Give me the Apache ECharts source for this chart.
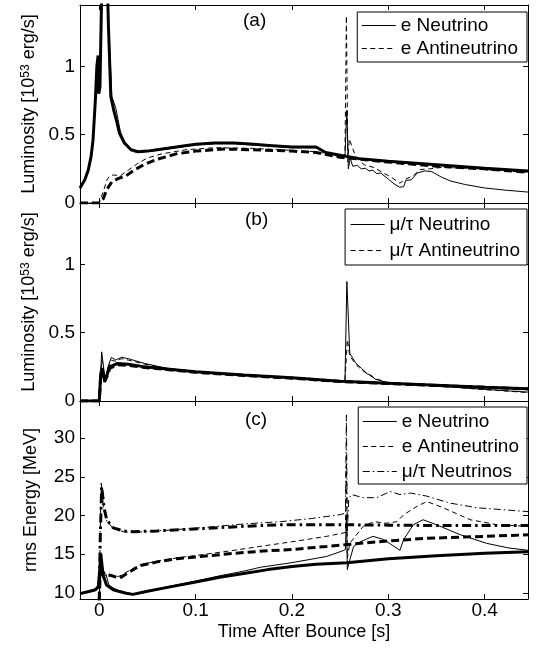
<!DOCTYPE html>
<html><head><meta charset="utf-8">
<script src="https://cdn.jsdelivr.net/npm/echarts@6/dist/echarts.min.js"></script>
<style>html,body{margin:0;padding:0;background:#fff}#c{width:537px;height:651px}</style>
</head><body><div id="c"></div>
<script>
// ---------- data (time [s], value) ----------
// Panel (a): luminosity, e neutrino / e antineutrino
const aENuThick = [[-0.02,0.11],[-0.015,0.17],[-0.0115,0.24],[-0.0085,0.34],[-0.0065,0.46],[-0.004,0.76],[-0.0025,1.0],[-0.0012,1.08],[-0.001,0.85],[-0.0005,0.8],[0.0007,0.85],[0.005,2.5],[0.0095,1.3],[0.012,0.78],[0.015,0.68],[0.018,0.6],[0.021,0.51],[0.026,0.44],[0.033,0.39],[0.04,0.375],[0.05,0.38],[0.06,0.39],[0.08,0.41],[0.1,0.43],[0.12,0.44],[0.14,0.44],[0.16,0.43],[0.18,0.42],[0.2,0.41],[0.225,0.41],[0.235,0.37],[0.25,0.35],[0.27,0.325],[0.3,0.305],[0.35,0.28],[0.4,0.255],[0.445,0.235]];
const aENuThin = [[-0.02,0.1],[-0.0115,0.23],[-0.0065,0.45],[-0.004,0.75],[-0.0025,0.99],[-0.001,1.05],[0.0007,0.9],[0.005,2.6],[0.0098,1.3],[0.013,0.78],[0.017,0.7],[0.022,0.52],[0.027,0.44],[0.034,0.385],[0.04,0.37],[0.06,0.385],[0.08,0.405],[0.1,0.425],[0.12,0.435],[0.14,0.435],[0.16,0.425],[0.18,0.415],[0.2,0.405],[0.225,0.405],[0.235,0.365],[0.25,0.345],[0.255,0.34],[0.257,0.68],[0.2585,0.25],[0.2605,0.33],[0.263,0.27],[0.268,0.275],[0.272,0.25],[0.276,0.255],[0.28,0.235],[0.284,0.24],[0.288,0.215],[0.292,0.22],[0.3,0.175],[0.306,0.14],[0.312,0.115],[0.316,0.12],[0.318,0.165],[0.324,0.17],[0.33,0.22],[0.338,0.235],[0.345,0.23],[0.355,0.19],[0.365,0.16],[0.38,0.135],[0.4,0.11],[0.42,0.095],[0.445,0.08]];
const aEAnuThick = [[-0.02,0],[0,0],[0.004,0.03],[0.008,0.1],[0.013,0.155],[0.02,0.18],[0.028,0.2],[0.036,0.24],[0.046,0.28],[0.06,0.32],[0.08,0.36],[0.1,0.38],[0.13,0.395],[0.16,0.39],[0.2,0.38],[0.225,0.37],[0.25,0.335],[0.3,0.3],[0.35,0.27],[0.4,0.25],[0.445,0.225]];
const aEAnuThin = [[-0.02,0],[0,0],[0.004,0.08],[0.008,0.17],[0.011,0.2],[0.015,0.205],[0.022,0.2],[0.03,0.24],[0.04,0.29],[0.05,0.33],[0.065,0.36],[0.09,0.39],[0.12,0.405],[0.16,0.4],[0.2,0.385],[0.225,0.375],[0.25,0.34],[0.255,0.335],[0.2565,1.37],[0.258,0.3],[0.2595,0.47],[0.263,0.4],[0.267,0.33],[0.275,0.28],[0.285,0.26],[0.295,0.22],[0.305,0.18],[0.312,0.145],[0.318,0.175],[0.326,0.2],[0.333,0.245],[0.343,0.25],[0.355,0.26],[0.38,0.255],[0.4,0.245],[0.445,0.225]];
// Panel (b): luminosity, mu/tau neutrino / antineutrino
const bMuNuThick = [[-0.02,0],[0,0],[0.0015,0.2],[0.003,0.24],[0.0055,0.15],[0.008,0.19],[0.011,0.25],[0.019,0.275],[0.03,0.27],[0.047,0.25],[0.07,0.235],[0.1,0.215],[0.15,0.19],[0.2,0.17],[0.25,0.145],[0.3,0.13],[0.35,0.115],[0.4,0.1],[0.445,0.09]];
const bMuAnuThick = [[-0.02,0],[0,0],[0.0015,0.18],[0.003,0.22],[0.0055,0.14],[0.008,0.18],[0.011,0.24],[0.019,0.265],[0.03,0.262],[0.047,0.245],[0.07,0.23],[0.1,0.21],[0.15,0.187],[0.2,0.167],[0.25,0.143],[0.3,0.128],[0.35,0.113],[0.4,0.1],[0.445,0.088]];
const bMuNuThin = [[-0.02,0],[0,0],[0.0025,0.36],[0.006,0.16],[0.009,0.25],[0.0125,0.32],[0.017,0.3],[0.023,0.32],[0.03,0.31],[0.047,0.275],[0.07,0.24],[0.1,0.215],[0.15,0.19],[0.2,0.168],[0.25,0.145],[0.255,0.143],[0.257,0.875],[0.26,0.35],[0.266,0.28],[0.272,0.24],[0.278,0.2],[0.283,0.185],[0.286,0.16],[0.292,0.15],[0.3,0.13],[0.35,0.11],[0.4,0.085],[0.445,0.065]];
const bMuAnuThin = [[-0.02,0],[0,0],[0.0025,0.3],[0.006,0.15],[0.009,0.23],[0.0125,0.3],[0.017,0.29],[0.023,0.31],[0.03,0.3],[0.047,0.27],[0.07,0.238],[0.1,0.213],[0.15,0.188],[0.2,0.166],[0.25,0.144],[0.255,0.142],[0.2575,0.45],[0.26,0.33],[0.266,0.27],[0.272,0.23],[0.278,0.2],[0.286,0.165],[0.3,0.135],[0.35,0.11],[0.4,0.083],[0.445,0.062]];
// Panel (c): rms energy [MeV]
const cENuThick = [[-0.02,9.9],[-0.01,10.2],[-0.004,10.4],[-0.001,10.8],[0.0005,13],[0.0015,15.1],[0.004,12.3],[0.0075,11.0],[0.0145,10.4],[0.02,10.2],[0.028,9.95],[0.035,9.8],[0.05,10.2],[0.075,10.8],[0.1,11.4],[0.125,12.0],[0.15,12.5],[0.175,13.0],[0.2,13.4],[0.225,13.7],[0.257,13.9],[0.3,14.4],[0.35,14.8],[0.4,15.1],[0.445,15.3]];
const cENuThin = [[-0.02,9.8],[-0.01,10.1],[-0.004,10.3],[-0.001,10.6],[0.0015,14.3],[0.004,11.8],[0.007,12.4],[0.01,11.0],[0.015,10.6],[0.02,10.3],[0.028,10.0],[0.035,9.85],[0.05,10.25],[0.075,10.9],[0.1,11.5],[0.125,12.2],[0.15,12.8],[0.167,13.3],[0.2,13.9],[0.236,14.7],[0.252,15.4],[0.2555,15.6],[0.2565,20.1],[0.2575,13.0],[0.259,13.8],[0.264,16.0],[0.271,16.6],[0.284,17.3],[0.295,16.9],[0.306,16.0],[0.312,15.5],[0.316,16.9],[0.326,18.8],[0.336,19.45],[0.35,18.8],[0.375,17.5],[0.402,16.4],[0.425,15.8],[0.445,15.5]];
const cEAnuThick = [[0,9],[0.001,12.5],[0.004,12.6],[0.01,12.3],[0.0215,11.9],[0.03,12.6],[0.042,13.5],[0.06,14.0],[0.08,14.4],[0.105,14.7],[0.14,15.1],[0.17,15.4],[0.2,15.6],[0.236,16.0],[0.271,16.4],[0.3,16.7],[0.34,17.05],[0.4,17.3],[0.445,17.5]];
const cEAnuThin = [[0,9],[0.001,12.2],[0.005,12.5],[0.01,12.4],[0.02,12.1],[0.03,12.8],[0.042,13.6],[0.06,14.1],[0.08,14.5],[0.105,14.9],[0.14,15.5],[0.167,16.0],[0.2,16.6],[0.236,17.3],[0.252,17.7],[0.2555,17.8],[0.2565,28],[0.2575,14.5],[0.26,16.4],[0.274,18.6],[0.285,19.2],[0.298,19.0],[0.309,19.2],[0.316,20.1],[0.33,21.2],[0.34,21.8],[0.357,21.0],[0.385,19.45],[0.413,18.8],[0.445,18.6]];
const cMuThick = [[0,9],[0.001,17],[0.0025,23.7],[0.005,21],[0.0077,19.45],[0.0145,18.4],[0.025,18.0],[0.035,17.9],[0.06,18.0],[0.105,18.3],[0.15,18.6],[0.188,18.8],[0.25,18.8],[0.3,18.75],[0.35,18.7],[0.4,18.7],[0.445,18.7]];
const cMuThin = [[0,9],[0.001,18],[0.002,24.2],[0.005,20.5],[0.008,19.2],[0.015,18.3],[0.025,17.9],[0.035,17.8],[0.06,18.0],[0.105,18.4],[0.15,18.9],[0.188,19.2],[0.22,19.6],[0.25,20.1],[0.2555,20.3],[0.2565,33],[0.2575,18],[0.259,22.2],[0.262,22.7],[0.274,22.3],[0.288,22.3],[0.302,23.1],[0.312,22.7],[0.323,22.9],[0.34,22.5],[0.364,21.6],[0.392,21.0],[0.445,20.5]];

// ---------- labels ----------
const legendA = ['e Neutrino','e Antineutrino'];
const legendB = ['μ/τ Neutrino','μ/τ Antineutrino'];
const legendC = ['e Neutrino','e Antineutrino','μ/τ Neutrinos'];
const panelLabels = ['(a)','(b)','(c)'];
const xName = 'Time After Bounce [s]';
const yNameLum = 'Luminosity [10{sup|53} erg/s]';
const yNameE = 'rms Energy [MeV]';

// ---------- chart ----------
const FONT = '"Liberation Sans", Arial, Helvetica, sans-serif';
const BLACK = '#000';
const X_MIN = -0.02, X_MAX = 0.445;
const tops = [5, 203, 401];
const H = 198;

function xAx(g, pos, labels, name) {
  const a = {
    type: 'value', gridIndex: g, position: pos, min: X_MIN, max: X_MAX, splitNumber: 5,
    axisLine: {show: true, onZero: false, lineStyle: {color: BLACK, width: 1}},
    axisTick: {show: true, inside: true, length: 5, lineStyle: {color: BLACK, width: 1}},
    axisLabel: {show: labels, showMinLabel: false, showMaxLabel: false, color: BLACK, fontSize: 19, fontFamily: FONT, margin: 2},
    splitLine: {show: false}
  };
  if (name) {
    a.name = name; a.nameLocation = 'middle'; a.nameGap = 24;
    a.nameTextStyle = {color: BLACK, fontSize: 18, fontFamily: FONT};
  }
  return a;
}
function yAx(g, pos, labels, lim, name, gap) {
  const a = {
    type: 'value', gridIndex: g, position: pos, min: lim.min, max: lim.max,
    axisLine: {show: true, onZero: false, lineStyle: {color: BLACK, width: 1}},
    axisTick: {show: true, inside: true, length: 5, lineStyle: {color: BLACK, width: 1}},
    axisLabel: {show: labels, showMinLabel: lim.showMin, showMaxLabel: false, color: BLACK, fontSize: 19, fontFamily: FONT, margin: 5},
    splitLine: {show: false}
  };
  if (lim.interval) a.interval = lim.interval; else a.splitNumber = lim.split;
  if (name) {
    a.name = name; a.nameLocation = 'middle'; a.nameGap = gap; a.nameRotate = 90;
    a.nameTextStyle = {color: BLACK, fontSize: 18, fontFamily: FONT,
      rich: {sup: {fontSize: 12, fontFamily: FONT, color: BLACK, verticalAlign: 'top', lineHeight: 12}}};
  }
  return a;
}
const limLum = {min: 0, max: 1.45, interval: 0.5, showMin: true};
const limE = {min: 9.2, max: 34.8, split: 5, showMin: false};

const xAxes = [], yAxes = [];
for (let g = 0; g < 3; g++) {
  xAxes.push(xAx(g, 'bottom', g === 2, g === 2 ? xName : null)); // index 2g
  xAxes.push(xAx(g, 'top', false, null));                           // index 2g+1
  const lim = g === 2 ? limE : limLum;
  yAxes.push(yAx(g, 'left', true, lim, g === 2 ? yNameE : yNameLum, g === 2 ? 40 : 42));
  yAxes.push(yAx(g, 'right', false, lim, null, 0));
}

function ser(name, data, g, width, type) {
  return {
    name: name, type: 'line', data: data, xAxisIndex: 2 * g, yAxisIndex: 2 * g,
    symbol: 'none', showSymbol: false, clip: true, smooth: false,
    lineStyle: {color: BLACK, width: width, type: type},
    itemStyle: {color: BLACK}, emphasis: {disabled: true}
  };
}
const DASH_THIN = [5, 3.5], DASH_THICK = [8, 4];
const DOT_THIN = [7, 3, 1.5, 3], DOT_THICK = [9, 4, 2.5, 4];
const series = [
  ser('a e nu model', aENuThick, 0, 3, 'solid'),
  ser('a e anu model', aEAnuThick, 0, 3, DASH_THICK),
  ser(legendA[0], aENuThin, 0, 1, 'solid'),
  ser(legendA[1], aEAnuThin, 0, 1, DASH_THIN),
  ser('b mu nu model', bMuNuThick, 1, 3, 'solid'),
  ser('b mu anu model', bMuAnuThick, 1, 3, DASH_THICK),
  ser(legendB[0], bMuNuThin, 1, 1, 'solid'),
  ser(legendB[1], bMuAnuThin, 1, 1, DASH_THIN),
  ser('c e nu model', cENuThick, 2, 3, 'solid'),
  ser('c e anu model', cEAnuThick, 2, 3, DASH_THICK),
  ser('c mu model', cMuThick, 2, 3, DOT_THICK),
  ser(legendC[0], cENuThin, 2, 1, 'solid'),
  ser(legendC[1], cEAnuThin, 2, 1, DASH_THIN),
  ser(legendC[2], cMuThin, 2, 1, DOT_THIN)
];

function leg(data, top, padding, gap) {
  return {
    data: data, orient: 'vertical', right: 10, top: top, padding: padding, itemGap: gap,
    itemWidth: 34, itemHeight: 14, backgroundColor: '#fff', borderColor: BLACK, borderWidth: 1, borderRadius: 0,
    selectedMode: false,
    itemStyle: {color: 'rgba(0,0,0,0)', borderColor: 'rgba(0,0,0,0)', borderWidth: 0, opacity: 0},
    lineStyle: {width: 1, color: BLACK},
    textStyle: {color: BLACK, fontSize: 19, fontFamily: FONT, lineHeight: 19}
  };
}

const option = {
  animation: false,
  backgroundColor: '#fff',
  grid: tops.map(t => ({left: 80, top: t, width: 448, height: H, containLabel: false})),
  xAxis: xAxes,
  yAxis: yAxes,
  legend: [
    leg(legendA, 12, [4, 9, 4, 4], 4),
    leg(legendB, 209, [6, 7, 5, 5], 7),
    leg(legendC, 407, [5, 8, 3, 4], 6)
  ],
  graphic: [
    {type: 'text', left: 243, top: 11, style: {text: panelLabels[0], fontSize: 19, fontFamily: FONT, fill: BLACK}},
    {type: 'text', left: 245, top: 210, style: {text: panelLabels[1], fontSize: 19, fontFamily: FONT, fill: BLACK}},
    {type: 'text', left: 245, top: 410, style: {text: panelLabels[2], fontSize: 19, fontFamily: FONT, fill: BLACK}}
  ],
  series: series
};
const chart = echarts.init(document.getElementById('c'), null, {renderer: 'canvas'});
chart.setOption(option);
</script>
</body></html>
